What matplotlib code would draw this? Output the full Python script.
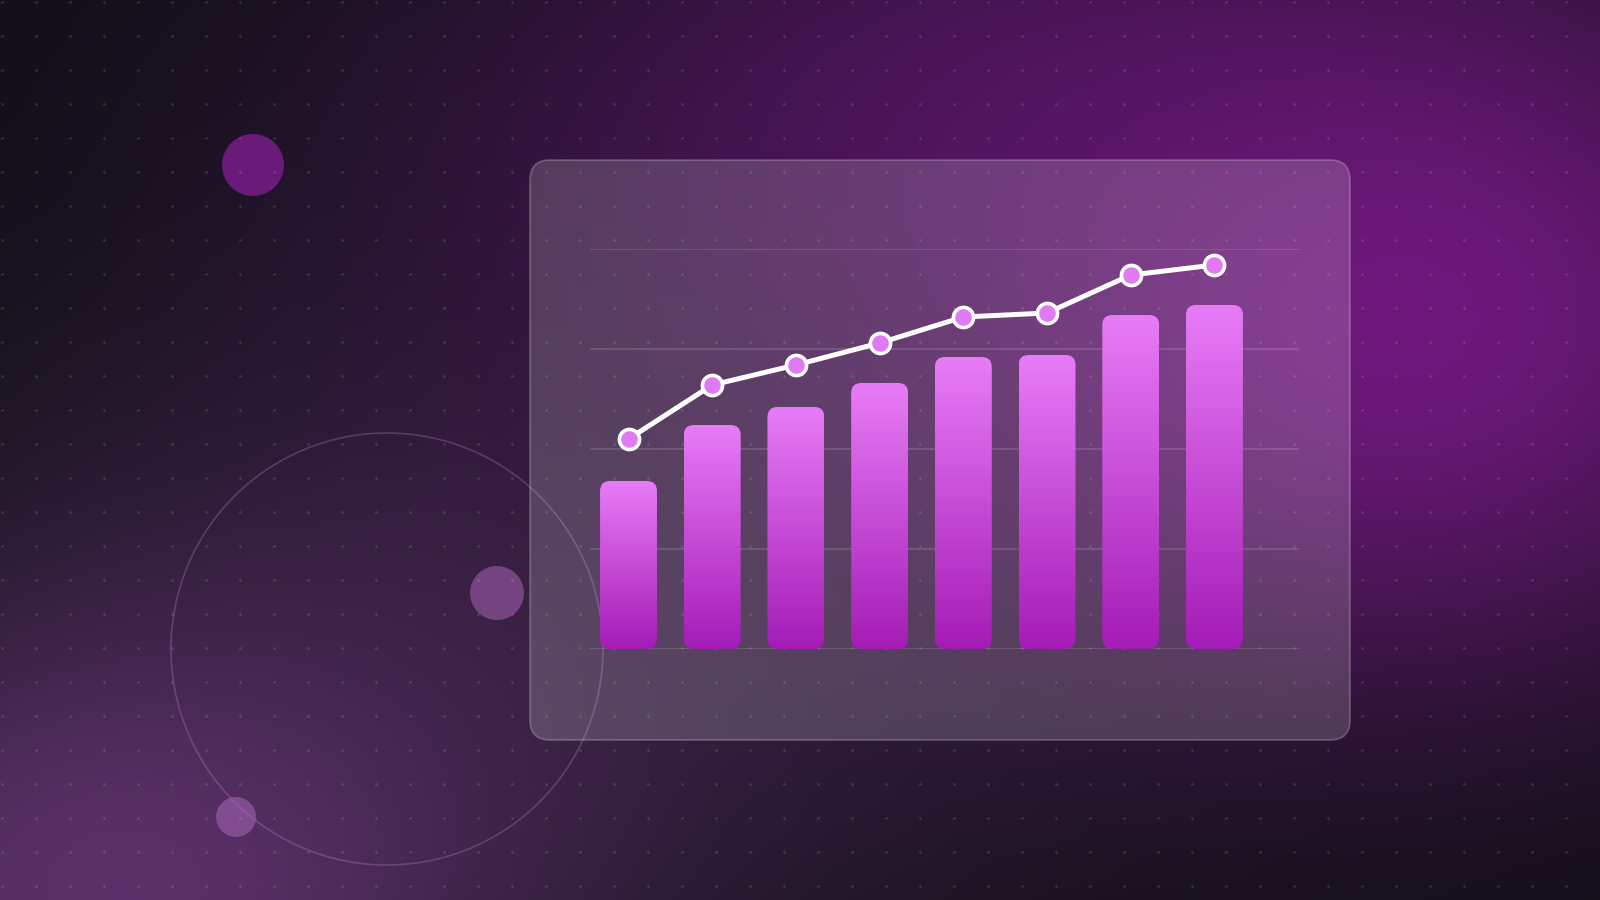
import matplotlib
matplotlib.use("Agg")
import matplotlib.pyplot as plt
import numpy as np
from matplotlib.patches import FancyBboxPatch, Circle

# data
periods = ["P1", "P2", "P3", "P4", "P5", "P6", "P7", "P8"]
bar_values = [42, 56, 60.5, 66.5, 73, 73.5, 83.5, 86]
line_values = [52.5, 66, 71, 76.5, 83, 84, 93.5, 96]
grid_ticks = [0, 25, 50, 75, 100]

W, H = 1600, 900
fig = plt.figure(figsize=(16, 9), dpi=100)

# background in pixel coordinates
bg = fig.add_axes([0, 0, 1, 1])
bg.set_xlim(0, W)
bg.set_ylim(H, 0)
bg.axis("off")

yy, xx = np.mgrid[0:H, 0:W].astype(float)

def glow(cx, cy, sx, sy):
    return np.exp(-0.5 * (((xx - cx) / sx) ** 2 + ((yy - cy) / sy) ** 2))

img = np.zeros((H, W, 3))
img[:] = np.array([16, 16, 21]) / 255
layers = [
    ((760, 470, 320, 260), (42, 24, 52), 0.75),
    ((470, 640, 360, 240), (52, 32, 62), 0.85),
    ((1000, 130, 420, 230), (72, 20, 86), 0.9),
    ((120, 890, 300, 210), (94, 50, 108), 0.95),
    ((1400, 320, 330, 255), (110, 24, 124), 1.0),
]
for (cx, cy, sx, sy), col, s in layers:
    a = (glow(cx, cy, sx, sy) * s)[..., None]
    img = img * (1 - a) + np.array(col) / 255 * a
bg.imshow(img, extent=[0, W, H, 0], aspect="auto", zorder=0)

# decorative shapes
bg.add_patch(Circle((387, 649), 216, fill=False, ec=(0.85, 0.6, 0.9, 0.25), lw=1.2, zorder=1))
bg.add_patch(Circle((253, 165), 31, fc="#6a1a78", ec="none", zorder=1))
bg.add_patch(Circle((497, 593), 27, fc=(0.62, 0.36, 0.66, 0.6), ec="none", zorder=1))
bg.add_patch(Circle((236, 817), 20, fc=(0.66, 0.40, 0.72, 0.55), ec="none", zorder=1))

# glass panel
panel = FancyBboxPatch((530, 160), 820, 580, boxstyle="round,pad=0,rounding_size=20",
                       fc=(1, 1, 1, 0.17), ec=(1, 1, 1, 0.22), lw=1.3, zorder=2)
bg.add_patch(panel)

# dot grid
gx, gy = np.meshgrid(np.arange(2, W, 34), np.arange(2, H, 34))
bg.scatter(gx.ravel(), gy.ravel(), s=4, c=[(1, 1, 1, 0.13)], lw=0, zorder=3)

# chart axes
left, right, base, top = 590, 1299, 649, 249
ax = fig.add_axes([left / W, 1 - base / H, (right - left) / W, (base - top) / H])
ax.patch.set_alpha(0)
ax.set_xlim(-0.46, 8.01)
ax.set_ylim(0, 100)
for s in ax.spines.values():
    s.set_visible(False)
ax.set_xticks([])
ax.set_yticks(grid_ticks)
ax.tick_params(left=False, labelleft=False)
ax.grid(axis="y", color="white", alpha=0.16, lw=1.2)
ax.set_axisbelow(True)

x = np.arange(len(periods))
bw = 0.68
bars = ax.bar(x, bar_values, width=bw, color="none", zorder=3)

fig.canvas.draw()
px_per_x = (ax.transData.transform((1, 0)) - ax.transData.transform((0, 0)))[0]
px_per_y = (ax.transData.transform((0, 1)) - ax.transData.transform((0, 0)))[1]
r_px = 10
rx = r_px / px_per_x
aspect = (r_px / px_per_y) / rx

grad = np.linspace(0, 1, 256)[:, None]
c_top = np.array([232, 124, 247]) / 255
c_bot = np.array([164, 28, 182]) / 255
gimg = c_bot * (1 - grad[..., None]) + c_top * grad[..., None]

for b in bars:
    x0, w, h = b.get_x(), b.get_width(), b.get_height()
    clip = FancyBboxPatch((x0, 0), w, h, boxstyle=f"round,pad=0,rounding_size={rx}",
                          mutation_aspect=aspect, fc="none", ec="none", transform=ax.transData)
    ax.add_patch(clip)
    im = ax.imshow(gimg, extent=[x0, x0 + w, 0, h], origin="lower", aspect="auto", zorder=3)
    im.set_clip_path(clip)

ax.set_xlim(-0.46, 8.01)
ax.set_ylim(0, 100)

ax.plot(x, line_values, color="white", lw=3.6, zorder=4, clip_on=False,
        solid_capstyle="round", solid_joinstyle="round")
ax.plot(x, line_values, ls="none", marker="o", ms=14.5, mfc="#e07af2", mec="white",
        mew=2.6, zorder=5, clip_on=False)

fig.savefig("out.png", dpi=100)
